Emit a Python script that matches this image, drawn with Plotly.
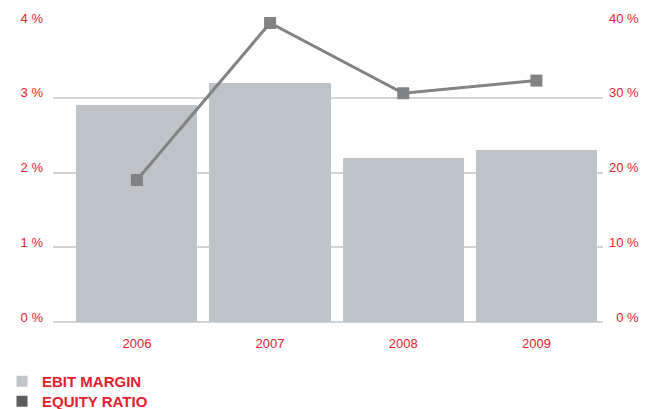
import plotly.graph_objects as go

years = ["2006", "2007", "2008", "2009"]
ebit_margin = [2.9, 3.2, 2.2, 2.3]
equity_ratio = [19.0, 40.0, 30.6, 32.3]
left_ticks = [0, 1, 2, 3, 4]
left_labels = ["0 %", "1 %", "2 %", "3 %", "4 %"]
right_ticks = [0, 10, 20, 30, 40]
right_labels = ["\u00a0\u00a00 %", "10 %", "20 %", "30 %", "40 %"]

RED = "#e3202e"
BAR = "#bec3c7"
LINE = "#808284"
DARK = "#5b5c5e"
GRID = "#d0d4d7"
FONT = "Liberation Sans, Arial, sans-serif"

# page has an 8px body margin; figure sized to fit the 653x409 window
W, H = 645, 401

fig = go.Figure()
fig.add_trace(go.Bar(x=list(range(4)), y=ebit_margin, marker=dict(color=BAR, line=dict(width=0)),
                     width=0.91, showlegend=False, yaxis="y"))
fig.add_trace(go.Scatter(x=list(range(4)), y=equity_ratio, mode="lines+markers",
                         line=dict(color=LINE, width=3),
                         marker=dict(symbol="square", size=12, color=LINE),
                         showlegend=False, yaxis="y2", cliponaxis=False))
fig.add_trace(go.Scatter(x=[None], y=[None], mode="markers", name="EBIT MARGIN",
                         marker=dict(symbol="square", size=11, color="#c0c4c8"), legend="legend"))
fig.add_trace(go.Scatter(x=[None], y=[None], mode="markers", name="EQUITY RATIO",
                         marker=dict(symbol="square", size=11, color=DARK), legend="legend2"))

legend_style = dict(xanchor="left", yanchor="top", orientation="v", yref="container",
                    font=dict(size=15, color=RED, family=FONT, weight="bold"),
                    itemwidth=30, bgcolor="rgba(0,0,0,0)")

fig.update_layout(
    width=W, height=H,
    margin=dict(l=45, r=50, t=15, b=87, autoexpand=False),
    paper_bgcolor="white", plot_bgcolor="white",
    font=dict(family=FONT, color=RED, size=13),
    bargap=0,
    xaxis=dict(range=[-0.63, 3.5], tickmode="array", tickvals=list(range(4)), ticktext=years,
               showgrid=False, zeroline=False, showline=False, ticks="", automargin=False,
               tickfont=dict(size=13, color=RED), ticklabelstandoff=12),
    yaxis=dict(range=[0, 4], tickmode="array", tickvals=left_ticks, ticktext=left_labels,
               showgrid=True, gridcolor=GRID, gridwidth=2, zeroline=True, zerolinecolor=GRID,
               zerolinewidth=2, ticks="", automargin=False,
               tickfont=dict(size=13, color=RED), ticklabelstandoff=9, ticklabelshift=-5),
    yaxis2=dict(range=[0, 40], tickmode="array", tickvals=right_ticks, ticktext=right_labels,
                overlaying="y", side="right", showgrid=False, zeroline=False, ticks="",
                automargin=False, tickfont=dict(size=13, color=RED), ticklabelstandoff=5,
                ticklabelshift=-5),
    legend=dict(x=-0.0927, y=1 - 357 / H, **legend_style),
    legend2=dict(x=-0.0927, y=1 - 377 / H, **legend_style),
)

fig.write_html("out.html")
